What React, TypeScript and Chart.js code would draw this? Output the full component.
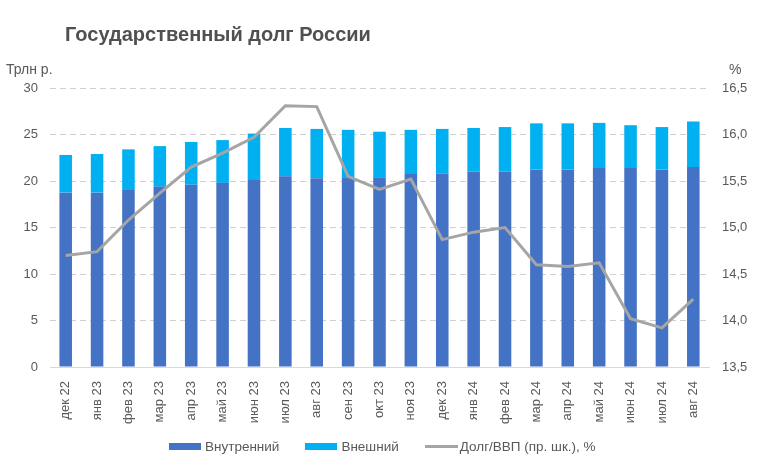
import React, { useEffect, useRef } from "react";
import { Chart, registerables } from "chart.js";

Chart.register(...registerables);

const categories = [
  "дек 22", "янв 23", "фев 23", "мар 23", "апр 23", "май 23", "июн 23", "июл 23", "авг 23",
  "сен 23", "окт 23", "ноя 23", "дек 23", "янв 24", "фев 24", "мар 24", "апр 24", "май 24",
  "июн 24", "июл 24", "авг 24",
];
const domestic = [18.75, 18.75, 19.1, 19.4, 19.6, 19.8, 20.1, 20.5, 20.3, 20.4, 20.4, 20.75, 20.8, 21.0, 21.0, 21.25, 21.25, 21.4, 21.4, 21.25, 21.5];
const totals = [22.8, 22.9, 23.4, 23.75, 24.2, 24.4, 25.1, 25.7, 25.6, 25.5, 25.3, 25.5, 25.6, 25.7, 25.8, 26.2, 26.2, 26.25, 26.0, 25.8, 26.4];
const external = totals.map((t, i) => Math.round((t - domestic[i]) * 100) / 100);
const debtToGdp = [14.7, 14.74, 15.08, 15.37, 15.65, 15.8, 15.97, 16.31, 16.3, 15.55, 15.41, 15.52, 14.87, 14.95, 15.0, 14.6, 14.58, 14.62, 14.02, 13.92, 14.23];

const title = "Государственный долг России";
const leftUnit = "Трлн р.";
const rightUnit = "%";
const legendLabels = ["Внутренний", "Внешний", "Долг/ВВП (пр. шк.), %"];

const C_DOM = "#4472C4";
const C_EXT = "#00B0F0";
const C_LINE = "#A5A5A5";
const TXT = "#595959";
const FONT = "'Liberation Sans', Arial, sans-serif";

export default function App() {
  const ref = useRef<HTMLCanvasElement | null>(null);

  useEffect(() => {
    document.body.style.margin = "0";
    const ctx = ref.current!;
    const chart = new Chart(ctx, {
      type: "bar",
      data: {
        labels: categories,
        datasets: [
          { type: "bar", label: legendLabels[0], data: domestic, backgroundColor: C_DOM, yAxisID: "y", stack: "s", categoryPercentage: 0.8, barPercentage: 0.5, order: 2 },
          { type: "bar", label: legendLabels[1], data: external, backgroundColor: C_EXT, yAxisID: "y", stack: "s", categoryPercentage: 0.8, barPercentage: 0.5, order: 2 },
          { type: "line", label: legendLabels[2], data: debtToGdp, borderColor: C_LINE, backgroundColor: C_LINE, borderWidth: 3, pointRadius: 0, tension: 0, yAxisID: "y1", order: 1 },
        ],
      },
      options: {
        responsive: false,
        animation: false,
        layout: { padding: { top: 88, left: 0, right: 0, bottom: 0 } },
        plugins: { legend: { display: false }, title: { display: false }, tooltip: { enabled: false } },
        scales: {
          x: {
            stacked: true,
            grid: { display: false },
            border: { display: true, color: "#D9D9D9", width: 1 },
            ticks: { color: TXT, font: { family: FONT, size: 13 }, minRotation: 90, maxRotation: 90, padding: 6, autoSkip: false },
            afterFit: (s: any) => { s.height = 104; },
          },
          y: {
            stacked: true,
            min: 0,
            max: 30,
            position: "left",
            ticks: { stepSize: 5, color: TXT, font: { family: FONT, size: 13 }, padding: 12 },
            grid: { color: (c: any) => (c.tick && c.tick.value === 0 ? "rgba(0,0,0,0)" : "#D0D0D0"), drawTicks: false, lineWidth: 1 },
            border: { display: false, dash: [6, 4] },
            afterFit: (s: any) => { s.width = 50; },
          },
          y1: {
            min: 13.5,
            max: 16.5,
            position: "right",
            ticks: {
              stepSize: 0.5,
              color: TXT,
              font: { family: FONT, size: 13 },
              padding: 13,
              callback: (v: any) => Number(v).toFixed(1).replace(".", ","),
            },
            grid: { drawOnChartArea: false, drawTicks: false },
            border: { display: false },
            afterFit: (s: any) => { s.width = 49; },
          },
        },
      },
    } as any);
    return () => chart.destroy();
  }, []);

  const legendItem = (color: string, text: string, line: boolean, last: boolean) => (
    <span style={{ display: "inline-flex", alignItems: "center", marginRight: last ? 0 : 26 }}>
      <span style={{ display: "inline-block", width: line ? 33 : 32, height: line ? 3 : 7, background: color, marginRight: line ? 2 : 4 }} />
      <span>{text}</span>
    </span>
  );

  return (
    <div style={{ position: "relative", width: 758, height: 471, background: "#fff", fontFamily: FONT }}>
      <canvas ref={ref} width={758} height={471} style={{ display: "block" }} />
      <div style={{ position: "absolute", left: 65, top: 23, fontSize: 20, fontWeight: "bold", color: "#505050" }}>{title}</div>
      <div style={{ position: "absolute", left: 6, top: 61, fontSize: 14, color: TXT }}>{leftUnit}</div>
      <div style={{ position: "absolute", left: 729, top: 61, fontSize: 14, color: TXT }}>{rightUnit}</div>
      <div style={{ position: "absolute", left: 169, top: 439, fontSize: 13.5, color: TXT, whiteSpace: "nowrap", display: "flex", alignItems: "center" }}>
        {legendItem(C_DOM, legendLabels[0], false, false)}
        {legendItem(C_EXT, legendLabels[1], false, false)}
        {legendItem(C_LINE, legendLabels[2], true, true)}
      </div>
    </div>
  );
}
